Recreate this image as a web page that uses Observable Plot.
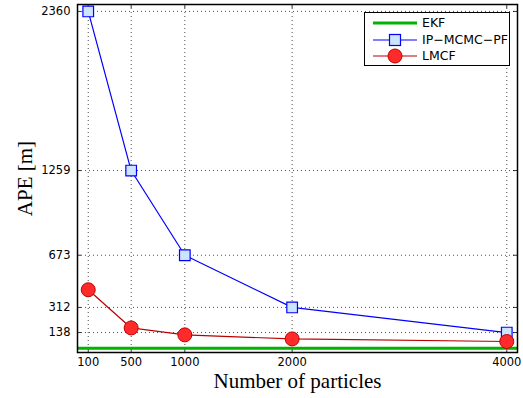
<!DOCTYPE html>
<html>
<head>
<meta charset="utf-8">
<script src="https://cdn.jsdelivr.net/npm/d3@7"></script>
<script src="https://cdn.jsdelivr.net/npm/@observablehq/plot@0.6"></script>
<style>
  html, body { margin: 0; padding: 0; background: #fff; }
  #wrap { position: relative; width: 523px; height: 398px; }
  #legend { position: absolute; left: 364px; top: 12px; width: 144px; height: 52px;
    border: 1px solid #000; background: #fff; font-family: "DejaVu Sans", sans-serif; font-size: 12.5px; }
  .row { position: absolute; left: 0; height: 16px; display: flex; align-items: center; }
  .row svg { display: block; }
  .row span { margin-left: 4px; line-height: 16px; }
</style>
</head>
<body>
<div id="wrap"><div id="chart"></div><div id="legend"></div></div>
<script>
// ---- data ----
const particles = [100, 500, 1000, 2000, 4000];
const ipmcmcpf = [2360, 1259, 673, 312, 138];
const lmcf = [434, 170, 122, 94, 76];
const ekfAPE = 30;
const xTicks = [100, 500, 1000, 2000, 4000];
const yTicks = [138, 312, 673, 1259, 2360];
const seriesNames = ["EKF", "IP\u2212MCMC\u2212PF", "LMCF"];

const ipData = particles.map((p, i) => ({p, v: ipmcmcpf[i]}));
const lmData = particles.map((p, i) => ({p, v: lmcf[i]}));

const W = 523, H = 398;
const mL = 77, mR = 6, mT = 4, mB = 46;
const tick = 4;
const sans = "DejaVu Sans, sans-serif";
const serif = "Liberation Serif, serif";

const chart = Plot.plot({
  width: W, height: H,
  marginLeft: mL, marginRight: mR, marginTop: mT, marginBottom: mB,
  style: {background: "#fff", color: "#000"},
  x: {type: "linear", domain: [0, 4100]},
  y: {type: "linear", domain: [0, 2408]},
  marks: [
    Plot.gridX(xTicks, {stroke: "#000", strokeOpacity: 0.7, strokeDasharray: "1,3", strokeWidth: 1}),
    Plot.gridY(yTicks, {stroke: "#000", strokeOpacity: 0.7, strokeDasharray: "1,3", strokeWidth: 1}),
    // inward ticks on all four sides
    Plot.tickX(xTicks, {x: d => d, insetTop: H - mT - mB - tick, stroke: "#000", strokeWidth: 0.8}),
    Plot.tickX(xTicks, {x: d => d, insetBottom: H - mT - mB - tick, stroke: "#000", strokeWidth: 0.8}),
    Plot.tickY(yTicks, {y: d => d, insetLeft: W - mL - mR - tick, stroke: "#000", strokeWidth: 0.8}),
    Plot.tickY(yTicks, {y: d => d, insetRight: W - mL - mR - tick, stroke: "#000", strokeWidth: 0.8}),
    Plot.ruleY([ekfAPE], {stroke: "#00b400", strokeWidth: 3}),
    Plot.line(ipData, {x: "p", y: "v", stroke: "#0000ff", strokeWidth: 1.2}),
    Plot.line(lmData, {x: "p", y: "v", stroke: "#b80000", strokeWidth: 1.2}),
    Plot.dot(ipData, {x: "p", y: "v", symbol: "square", r: 6, fill: "#cce4ff", stroke: "#0000ff", strokeWidth: 1.2}),
    Plot.dot(lmData, {x: "p", y: "v", r: 7, fill: "#ff2a2a", stroke: "#c00000", strokeWidth: 1}),
    Plot.frame({stroke: "#000", strokeWidth: 1.5}),
    Plot.axisX(xTicks, {tickSize: 0, tickPadding: 5, fontSize: 11.5, fontFamily: sans, label: null, tickFormat: d => String(d)}),
    Plot.axisY(yTicks, {tickSize: 0, tickPadding: 7, fontSize: 11.5, fontFamily: sans, label: null, tickFormat: d => String(d)}),
    Plot.text(["Number of particles"], {text: d => d, frameAnchor: "bottom", dy: 29, lineAnchor: "middle", fontSize: 21, fontFamily: serif}),
    Plot.text(["APE [m]"], {text: d => d, frameAnchor: "left", dx: -52, rotate: -90, lineAnchor: "middle", textAnchor: "middle", fontSize: 21, fontFamily: serif})
  ]
});
document.getElementById("chart").appendChild(chart);

// legend
const leg = document.getElementById("legend");
const rowsY = [2, 19, 35];
seriesNames.forEach((name, i) => {
  const row = document.createElement("div");
  row.className = "row";
  row.style.top = rowsY[i] + "px";
  row.style.left = "8px";
  let sw = `<svg width="45" height="16"><line x1="0" x2="44" y1="8" y2="8" stroke="${["#00b400","#0000ff","#b80000"][i]}" stroke-width="${i===0?3:1.2}"/>`;
  if (i === 1) sw += `<rect x="16.5" y="2.5" width="11" height="11" fill="#cce4ff" stroke="#0000ff" stroke-width="1.2"/>`;
  if (i === 2) sw += `<circle cx="22" cy="8" r="7" fill="#ff2a2a" stroke="#c00000" stroke-width="1"/>`;
  sw += `</svg>`;
  row.innerHTML = sw + `<span>${name}</span>`;
  leg.appendChild(row);
});
</script>
</body>
</html>
